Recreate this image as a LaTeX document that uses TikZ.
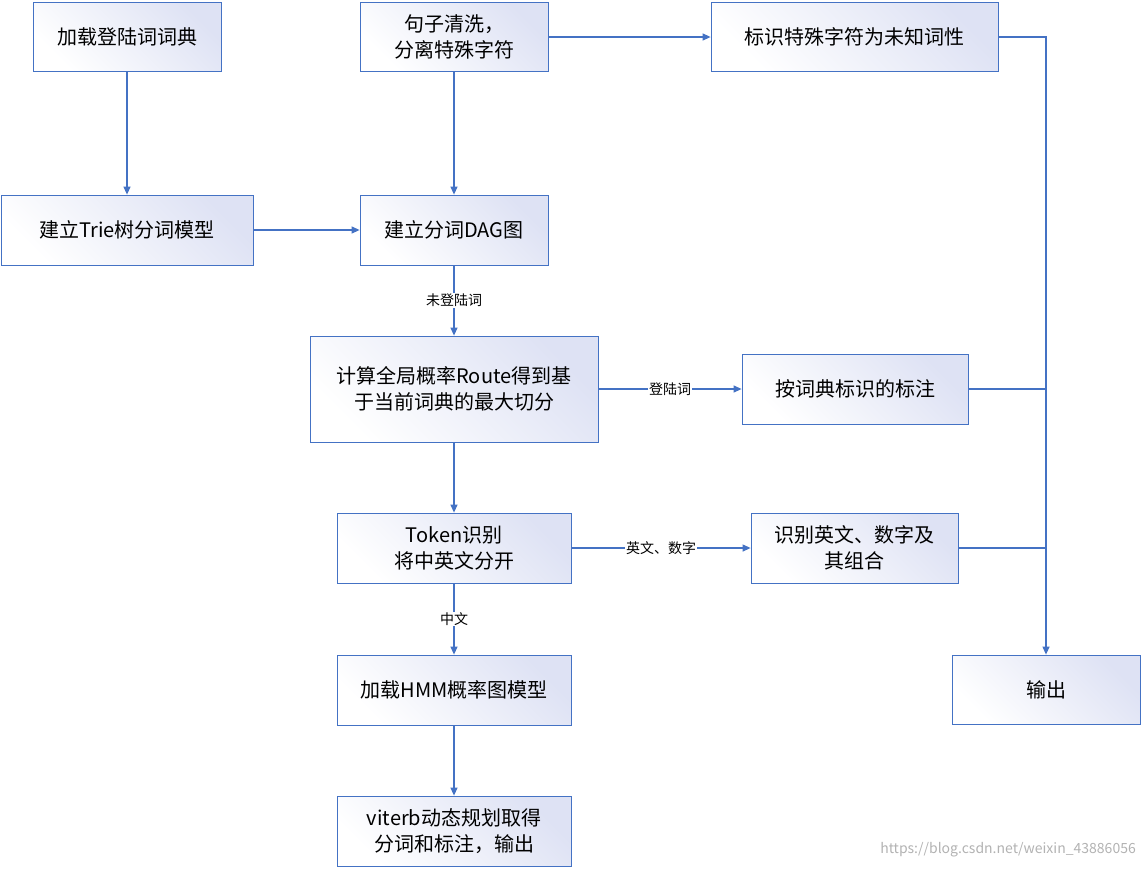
\documentclass[tikz,border=0pt]{standalone}
\usepackage{fontspec}
\setmainfont{Noto Sans CJK SC}
\usetikzlibrary{arrows.meta}
\definecolor{bl}{RGB}{68,114,196}
\definecolor{lav}{RGB}{222,226,244}
\begin{document}
\begin{tikzpicture}[x=1pt,y=-1pt,
 box/.style={draw=bl,line width=0.8pt,left color=white,right color=lav,shading angle=135,align=center,font=\fontsize{20}{26}\selectfont,inner sep=0pt},
 arr/.style={draw=bl,line width=1.2pt,-{Triangle[length=8pt,width=7pt]}},
 ln/.style={draw=bl,line width=1.2pt},
 lab/.style={fill=white,font=\fontsize{14}{16}\selectfont,inner sep=1pt}]
\useasboundingbox (0,0) rectangle (1143,868);
\newcommand\bx[6]{\node[box,minimum width=#4-#2,minimum height=#5-#3] (#1) at ({(#2+#4)/2},{(#3+#5)/2}) {#6};}
\bx{A}{33}{2}{221}{71}{加载登陆词词典}
\bx{B}{360}{2}{548}{71}{句子清洗，\\分离特殊字符}
\bx{C}{711}{2}{998}{71}{标识特殊字符为未知词性}
\bx{D}{1}{195}{253}{265}{建立Trie树分词模型}
\bx{E}{360}{195}{548}{265}{建立分词DAG图}
\bx{F}{310}{336}{598}{442}{计算全局概率Route得到基\\于当前词典的最大切分}
\bx{G}{742}{354}{968}{424}{按词典标识的标注}
\bx{H}{337}{513}{571}{583}{Token识别\\将中英文分开}
\bx{I}{751}{513}{958}{583}{识别英文、数字及\\其组合}
\bx{J}{337}{655}{571}{725}{加载HMM概率图模型}
\bx{K}{337}{796}{571}{866}{viterb动态规划取得\\分词和标注，输出}
\bx{L}{952}{655}{1140}{724}{输出}
\draw[arr] (A) -- (D);
\draw[arr] (B) -- (E);
\draw[arr] (D) -- (E);
\draw[arr] (B.east|-0,37) -- (C.west|-0,37);
\draw[arr] (E) -- node[lab]{未登陆词} (F);
\draw[arr] (F.east|-G) -- node[lab]{登陆词} (G);
\draw[arr] (F) -- (H);
\draw[arr] (H) -- node[lab]{英文、数字} (I);
\draw[arr] (H) -- node[lab]{中文} (J);
\draw[arr] (J) -- (K);
\coordinate (c1) at (1046,37);
\draw[arr] (C.east|-c1) -- (c1) -- (L);
\draw[ln] (G.east) -- (1046,389);
\draw[ln] (I.east) -- (1046,548);
\node[text=gray!60,font=\fontsize{14}{15}\selectfont,anchor=east,inner sep=0pt] (w) at (1136,850) {https://blog.csdn.net/weixin\_43886056};
\end{tikzpicture}
\end{document}
